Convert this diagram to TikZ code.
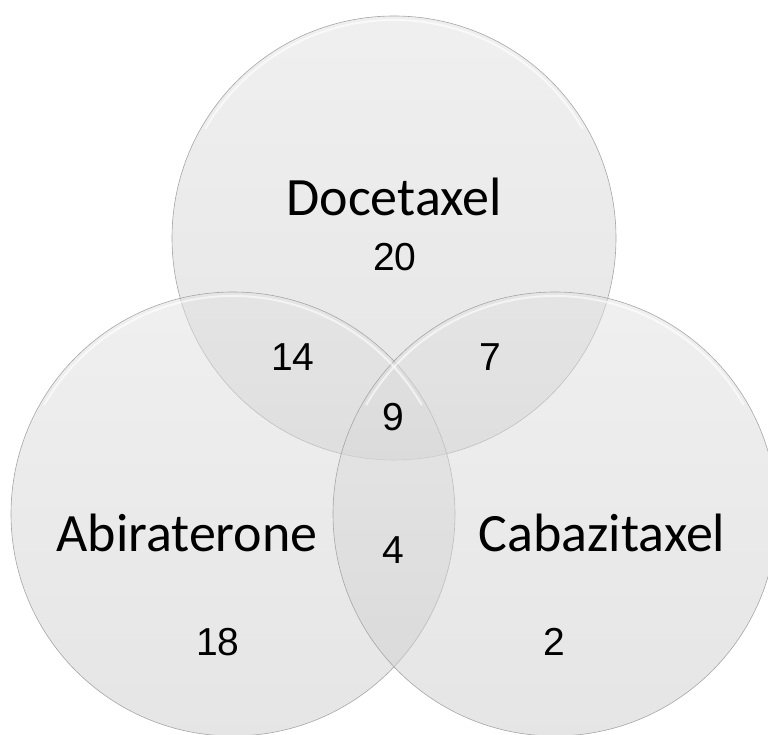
\documentclass[tikz,border=0pt]{standalone}
\usepackage{fontspec}
\setmainfont{Carlito}
\newfontfamily\numfont{Liberation Sans}
\usepackage{tikz}

\begin{document}
\begin{tikzpicture}[x=1pt,y=1pt]
            \tikzstyle{every node}+=[inner sep=0pt]
            \tikzstyle{venn}=[circle, minimum size=444pt, draw=black!35, line width=0.6pt,
                top color=black!12, bottom color=black!20, fill opacity=0.5]
            \tikzstyle{setname}=[font=\fontsize{54}{54}\selectfont]
            \tikzstyle{count}=[font=\numfont\fontsize{39}{39}\selectfont]
            \useasboundingbox (0,0) rectangle (768,735);
            % the three sets
            \node (doc) [venn] at (394,497) {};
            \node (abi) [venn] at (233,221) {};
            \node (cab) [venn] at (555,221) {};
            % a light rim on each circle
            \foreach \c in {doc,abi,cab}
                \draw [white, line width=2pt, opacity=0.6] (\c.center) ++(30:218) arc (30:150:218);
            % names
            \node (docname) [setname] at (394,538) {Docetaxel};
            \node (abiname) [setname] at (187,202) {Abiraterone};
            \node (cabname) [setname] at (602,202) {Cabazitaxel};
            % counts
            \node (n20) [count] at (395,478) {20};
            \node (n14) [count] at (293,378) {14};
            \node (n7) [count] at (490,378) {7};
            \node (n9) [count] at (393,318) {9};
            \node (n4) [count] at (393,185) {4};
            \node (n18) [count] at (218,93) {18};
            \node (n2) [count] at (554,93) {2};
        \end{tikzpicture}
\end{document}
